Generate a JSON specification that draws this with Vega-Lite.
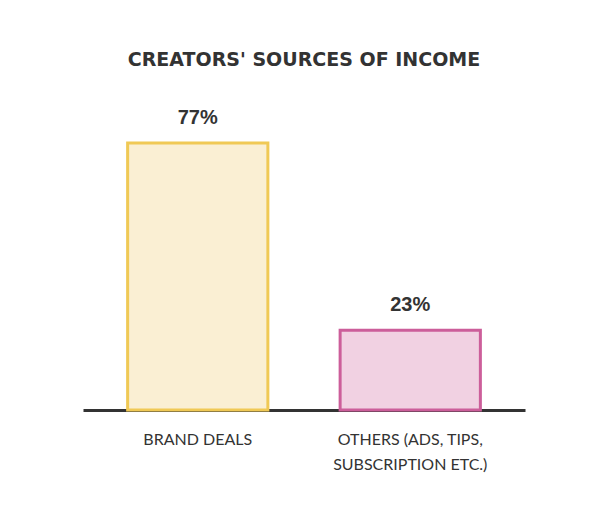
{
  "$schema": "https://vega.github.io/schema/vega-lite/v6.json",
  "width": 442,
  "height": 312,
  "autosize": {"type": "none"},
  "padding": {"left": 83, "top": 98, "right": 75, "bottom": 106},
  "background": "#ffffff",
  "title": {
    "text": "CREATORS' SOURCES OF INCOME",
    "font": "DejaVu Sans",
    "fontSize": 19,
    "fontWeight": 600,
    "color": "#333333",
    "anchor": "middle",
    "offset": 28
  },
  "data": {
    "values": [
      {"source": "Brand deals", "share": 77, "label": "77%"},
      {"source": "Others (ads, tips,|subscription etc.)", "share": 23, "label": "23%"}
    ]
  },
  "encoding": {
    "x": {
      "field": "source",
      "type": "nominal",
      "sort": null,
      "scale": {"paddingInner": 0.34, "paddingOuter": 0.21},
      "axis": {
        "title": null,
        "labelAngle": 0,
        "labelExpr": "split(upper(datum.label), '|')",
        "labelFont": "Lato",
        "labelFontSize": 16,
        "labelColor": "#333333",
        "labelPadding": 21,
        "labelLineHeight": 25,
        "ticks": false,
        "domainColor": "#333333",
        "domainWidth": 3
      }
    },
    "y": {
      "field": "share",
      "type": "quantitative",
      "scale": {"domain": [0, 90], "nice": false},
      "axis": null
    }
  },
  "layer": [
    {
      "mark": {"type": "bar", "strokeWidth": 3},
      "encoding": {
        "fill": {
          "field": "source",
          "type": "nominal",
          "scale": {"range": ["#FAEFD3", "#F1D1E2"]},
          "legend": null
        },
        "stroke": {
          "field": "source",
          "type": "nominal",
          "scale": {"range": ["#F0C955", "#CC5E9A"]},
          "legend": null
        }
      }
    },
    {
      "mark": {"type": "text", "font": "Liberation Sans", "fontSize": 20, "fontWeight": 700, "color": "#333333", "dy": -25, "baseline": "middle"},
      "encoding": {"text": {"field": "label"}}
    }
  ],
  "config": {"view": {"stroke": null}}
}
